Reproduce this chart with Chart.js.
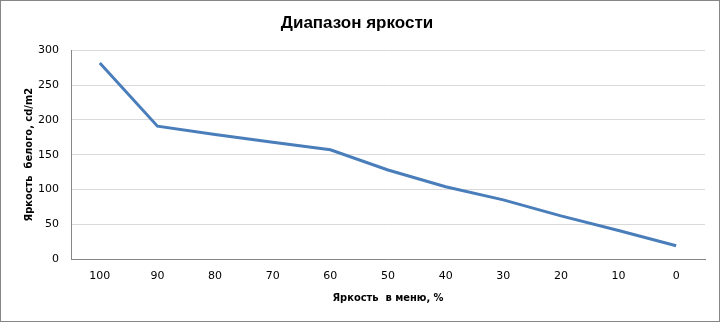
<!DOCTYPE html>
<html>
<head>
<meta charset="utf-8">
<script src="https://cdn.jsdelivr.net/npm/chart.js@4"></script>
<style>
  body { margin: 0; background: #fff; }
  #wrap { width: 720px; height: 322px; box-sizing: border-box; border: 1px solid #868686; }
  #chart { display: block; }
</style>
</head>
<body>
<div id="wrap"><canvas id="chart" width="718" height="320"></canvas></div>
<script>
/* Диапазон яркости */
const menuLevels = ['100', '90', '80', '70', '60', '50', '40', '30', '20', '10', '0'];
const whiteLum = [282, 191, 179, 168, 157, 128, 104, 85, 62, 41, 19];
const yTicks = [0, 50, 100, 150, 200, 250, 300];

const titleText = 'Диапазон яркости';
const xTitle = 'Яркость  в меню, %';
const yTitle = 'Яркость  белого, cd/m2';

const data = {
  labels: menuLevels,
  datasets: [{
    label: 'Яркость',
    data: whiteLum,
    borderColor: '#4a7ebb',
    backgroundColor: '#4a7ebb',
    borderWidth: 3,
    pointRadius: 0,
    tension: 0,
  }]
};

const config = {
  type: 'line',
  data: data,
  options: {
    responsive: false,
    animation: false,
    layout: { padding: { left: 8, right: 14, top: 4, bottom: 4 } },
    plugins: {
      legend: { display: false },
      tooltip: { enabled: false },
      title: {
        display: true,
        text: titleText,
        color: '#000',
        font: { family: 'Liberation Sans', size: 17, weight: 'bold' },
        padding: { top: 8, bottom: 17 }
      }
    },
    scales: {
      x: {
        offset: true,
        afterFit: (axis) => { axis.height = 58; },
        grid: { display: false, drawTicks: false, offset: true },
        border: { color: '#868686', width: 1 },
        ticks: { color: '#000', font: { family: 'DejaVu Sans', size: 11 }, padding: 11, maxRotation: 0 },
        title: {
          display: true, text: xTitle, color: '#000',
          font: { family: 'DejaVu Sans Condensed', size: 11, weight: 'bold' },
          padding: { top: 0, bottom: 12 }
        }
      },
      y: {
        min: 0, max: 300,
        afterBuildTicks: (axis) => { axis.ticks = yTicks.map(v => ({ value: v })); },
        afterFit: (axis) => { axis.width = 62; },
        grid: { color: '#d9d9d9', drawTicks: false },
        border: { color: '#868686', width: 1 },
        ticks: { color: '#000', font: { family: 'DejaVu Sans', size: 11 }, padding: 12 },
        title: {
          display: true, text: yTitle, color: '#000',
          font: { family: 'DejaVu Sans Condensed', size: 11, weight: 'bold' },
          padding: { top: 14, bottom: 0 }
        }
      }
    }
  }
};

const ctx = document.getElementById('chart').getContext('2d');
const myChart = new Chart(ctx, config);
</script>
</body>
</html>
